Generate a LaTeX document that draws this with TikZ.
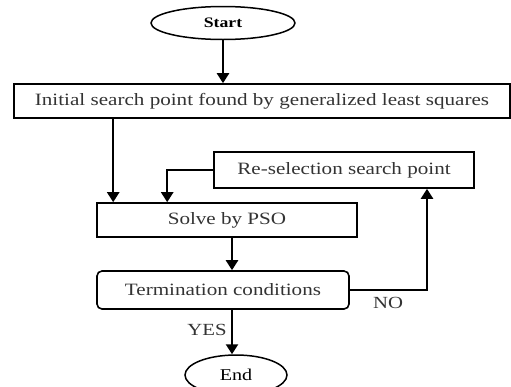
\documentclass[tikz,border=0pt]{standalone}
\usepackage{fontspec}
\setmainfont{Liberation Serif}[FakeStretch=1.22]
\usetikzlibrary{arrows.meta,calc,shapes.geometric}
\begin{document}
\begin{tikzpicture}[x=1pt,y=-1pt,
  box/.style={draw, line width=1.6pt, minimum height=34pt, inner sep=0pt, font=\fontsize{17.3}{20}\selectfont, text=black!80},
  oval/.style={draw, ellipse, line width=1.5pt, inner sep=0pt},
  arr/.style={line width=2.3pt, -{Triangle[width=12pt,length=10pt]}},
  lab/.style={font=\fontsize{17}{20}\selectfont, text=black!80}]
\useasboundingbox (0,0) rectangle (511,386);
\node[oval, minimum width=144pt, minimum height=33pt, font=\bfseries\fontsize{14.5}{16}\selectfont] (start) at (223,23) {Start};
\node[box, minimum width=496pt] (init) at (262,101) {Initial search point found by generalized least squares};
\node[box, minimum width=260pt, minimum height=36pt] (re) at (344,170) {Re-selection search point};
\node[box, minimum width=260pt] (solve) at (227,220) {Solve by PSO};
\node[box, minimum width=252pt, minimum height=38pt, rounded corners=5pt] (term) at (223,290) {Termination conditions};
\node[oval, minimum width=102pt, minimum height=40pt, font=\fontsize{16.5}{18}\selectfont] (end) at (236,375) {End};
\draw[arr] (start.south) -- (init.north -| start.south);
\draw[arr] ([xshift=17pt]solve.north west |- init.south) -- ([xshift=17pt]solve.north west);
\draw[arr] (re.west) -| ([xshift=71pt]solve.north west);
\draw[arr] ([xshift=5pt]solve.south) -- ([xshift=5pt]solve.south |- term.north);
\draw[arr] (term.east) -| ([xshift=83pt]re.south);
\draw[arr] ([xshift=9pt]term.south) -- ([xshift=9pt]term.south |- end.north);
\node[lab] (no) at (388,303) {NO};
\node[lab] (yes) at (207,330) {YES};
\end{tikzpicture}
\end{document}
